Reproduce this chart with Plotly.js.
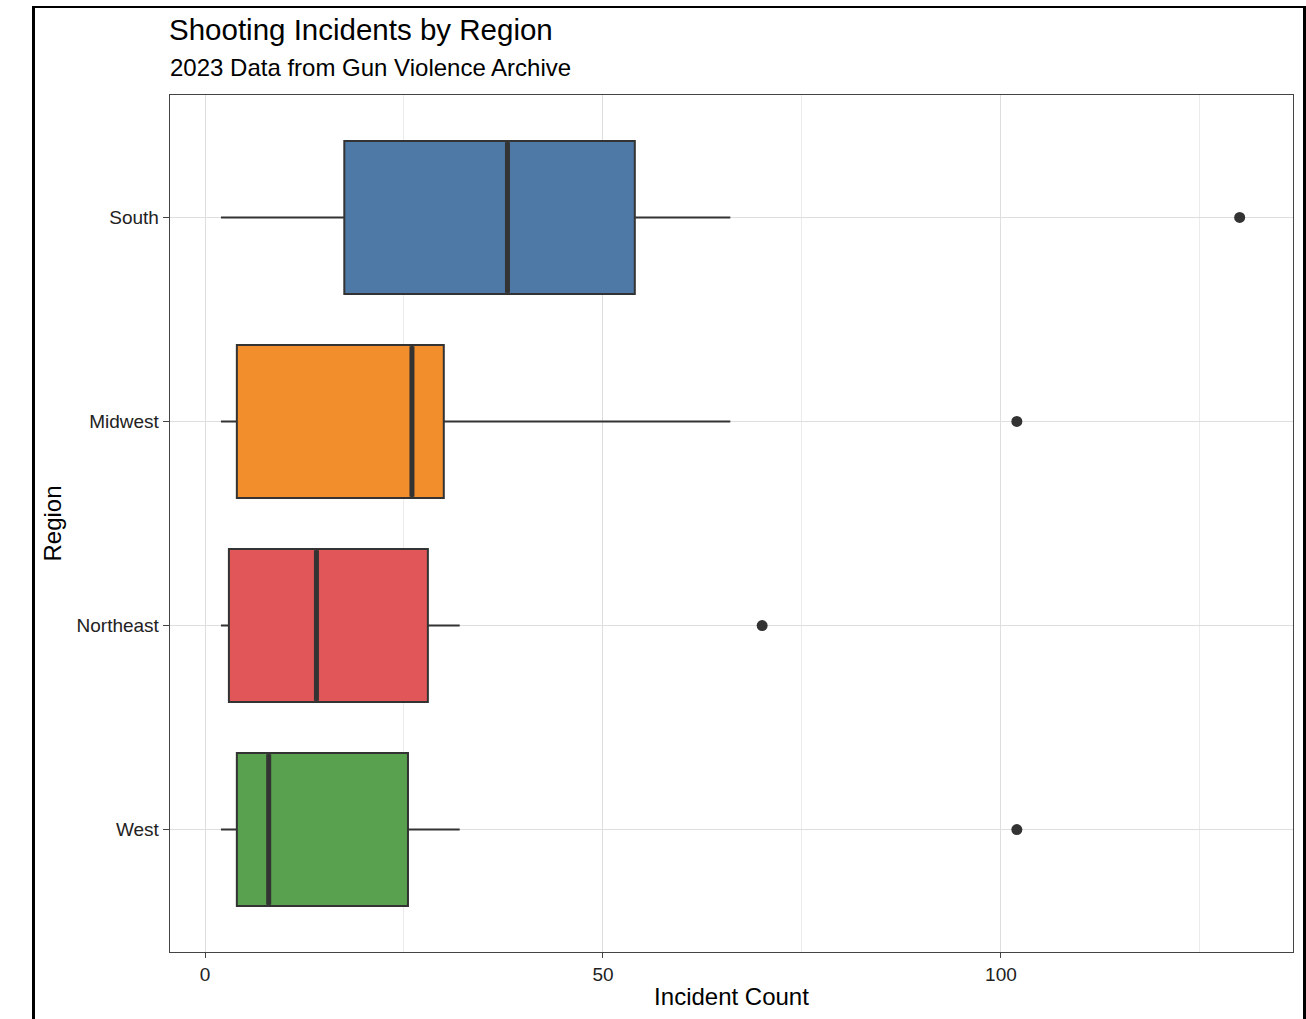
<!DOCTYPE html>
<html>
<head>
<meta charset="utf-8">
<script src="https://cdn.plot.ly/plotly-3.0.1.min.js"></script>
<style>
  html, body { margin: 0; padding: 0; background: #fff; overflow: hidden; }
  #chart { position: absolute; left: 0; top: 0; width: 1306px; height: 1019px; }
  #frame { position: absolute; left: 32px; top: 6px; width: 1268px; height: 1100px;
           border: 3px solid #000; border-top-width: 2px; pointer-events: none; box-sizing: content-box; }
</style>
</head>
<body>
<div id="chart"></div>
<div id="frame"></div>
<script>
// ---- data ----
const regions      = ["West", "Northeast", "Midwest", "South"];   // bottom to top
const lowerWhisker = [2, 2, 2, 2];
const q1Values     = [4, 3, 4, 17.5];
const medianValues = [8, 14, 26, 38];
const q3Values     = [25.5, 28, 30, 54];
const upperWhisker = [32, 32, 66, 66];
const outlierValues = [102, 70, 102, 130];
const boxColors    = ["#59A14F", "#E15759", "#F28E2B", "#4E79A7"];

const xTickVals = [0, 50, 100];
const xTickText = ["0", "50", "100"];

const titleText    = "Shooting Incidents by Region";
const subtitleText = "2023 Data from Gun Violence Archive";

const boxWidth = 0.75;
const FONT = "Liberation Sans, Arial, Helvetica, sans-serif";

const traces = [];
regions.forEach((r, i) => {
  traces.push({
    type: "box",
    orientation: "h",
    name: r,
    y: [i],
    q1: [q1Values[i]],
    median: [medianValues[i]],
    q3: [q3Values[i]],
    lowerfence: [lowerWhisker[i]],
    upperfence: [upperWhisker[i]],
    width: boxWidth,
    whiskerwidth: 0,
    fillcolor: boxColors[i],
    line: { color: "#333333", width: 2 },
    boxpoints: false,
    hoverinfo: "x",
    showlegend: false
  });
  // thick median line (ggplot style)
  traces.push({
    type: "scatter",
    mode: "lines",
    x: [medianValues[i], medianValues[i]],
    y: [i - boxWidth / 2 + 0.006, i + boxWidth / 2 - 0.006],
    line: { color: "#333333", width: 5 },
    hoverinfo: "skip",
    showlegend: false
  });
  // outlier
  traces.push({
    type: "scatter",
    mode: "markers",
    x: [outlierValues[i]],
    y: [i],
    marker: { color: "#333333", size: 11 },
    hoverinfo: "x",
    showlegend: false
  });
});

const layout = {
  width: 1306,
  height: 1019,
  paper_bgcolor: "#ffffff",
  plot_bgcolor: "#ffffff",
  font: { family: FONT, color: "#222222" },
  margin: { l: 170, r: 13, t: 95, b: 67, pad: 0 },
  boxmode: "overlay",
  showlegend: false,
  title: {
    text: titleText,
    font: { family: FONT, size: 29.5, color: "#000000" },
    xref: "container",
    x: 169 / 1306,
    xanchor: "left",
    yref: "container",
    y: 1 - 30 / 1019,
    yanchor: "middle"
  },
  annotations: [{
    text: subtitleText,
    xref: "paper", yref: "paper",
    x: 0, y: (952 - 68) / 857,
    xanchor: "left", yanchor: "middle",
    xshift: -2,
    showarrow: false,
    font: { family: FONT, size: 24, color: "#000000" }
  }],
  xaxis: {
    range: [-4.4, 136.7],
    tickmode: "array",
    tickvals: xTickVals,
    ticktext: xTickText,
    ticks: "outside",
    ticklen: 5,
    tickwidth: 1,
    tickcolor: "#444444",
    tickfont: { family: FONT, size: 19, color: "#222222" },
    showgrid: true,
    gridcolor: "#dedede",
    gridwidth: 1,
    minor: { dtick: 25, tick0: 0, showgrid: true, gridcolor: "#ebebeb", gridwidth: 1, ticks: "" },
    zeroline: false,
    showline: true,
    linecolor: "#444444",
    linewidth: 1.3,
    mirror: true,
    title: { text: "Incident Count", font: { family: FONT, size: 24, color: "#000000" }, standoff: 4 },
    automargin: false,
    fixedrange: true
  },
  yaxis: {
    range: [-0.6, 3.6],
    tickmode: "array",
    tickvals: [0, 1, 2, 3],
    ticktext: regions,
    ticks: "outside",
    ticklen: 6,
    tickwidth: 1,
    tickcolor: "#444444",
    tickfont: { family: FONT, size: 19, color: "#222222" },
    showgrid: true,
    gridcolor: "#dedede",
    gridwidth: 1,
    zeroline: false,
    showline: true,
    linecolor: "#444444",
    linewidth: 1.3,
    mirror: true,
    title: { text: "Region", font: { family: FONT, size: 24, color: "#000000" }, standoff: 8 },
    automargin: false,
    fixedrange: true
  }
};

Plotly.newPlot("chart", traces, layout, { displayModeBar: false, staticPlot: true });
</script>
</body>
</html>
